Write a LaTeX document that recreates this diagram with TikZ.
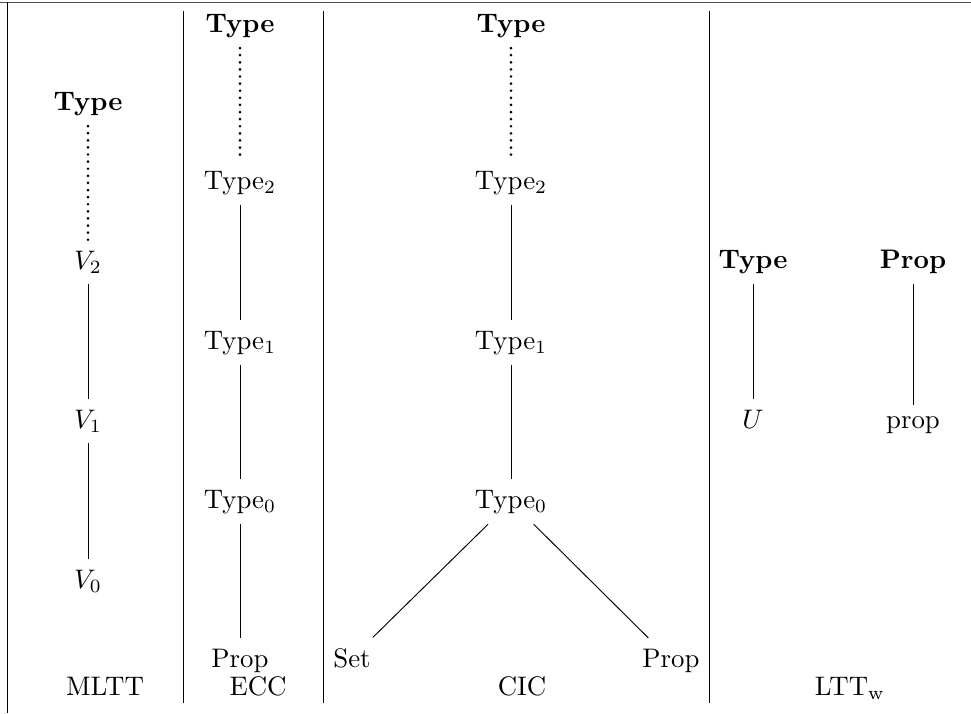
\documentclass[tikz,border=0pt]{standalone}
\begin{document}
\begin{tikzpicture}[x=0.373pt,y=-0.373pt,
  lbl/.style={anchor=base,inner sep=4pt,outer sep=0pt},
  edge/.style={line width=0.35pt},
  dots/.style={line width=1.1pt,line cap=round,dash pattern=on 0pt off 2.65pt},
  rule/.style={line width=0.35pt}]
\useasboundingbox (0,0) rectangle (971,713);
% frame and column rules
\draw[rule,black!70] (0,2) -- (971,2);
\draw[rule] (7,2) -- (7,713);
\draw[rule] (183,11) -- (183,703);
\draw[rule] (323,11) -- (323,703);
\draw[rule] (709,11) -- (709,703);
% MLTT
\node[lbl] (mT) at (88,110) {\textbf{Type}};
\node[lbl] (mV2) at (88,269) {$V_2$};
\node[lbl] (mV1) at (88,428) {$V_1$};
\node[lbl] (mV0) at (88,588) {$V_0$};
\node[lbl] (mL) at (105,695) {MLTT};
\draw[dots] (mT) -- (mV2);
\draw[edge] (mV2) -- (mV1);
\draw[edge] (mV1) -- (mV0);
% ECC
\node[lbl] (eT) at (240,32) {\textbf{Type}};
\node[lbl] (e2) at (240,189) {Type$_2$};
\node[lbl] (e1) at (240,349) {Type$_1$};
\node[lbl] (e0) at (240,508) {Type$_0$};
\node[lbl] (eP) at (240,667) {Prop};
\node[lbl] (eL) at (258,695) {ECC};
\draw[dots] (eT) -- (e2);
\draw[edge] (e2) -- (e1);
\draw[edge] (e1) -- (e0);
\draw[edge] (e0) -- (eP);
% CIC
\node[lbl] (cT) at (511,32) {\textbf{Type}};
\node[lbl] (c2) at (511,189) {Type$_2$};
\node[lbl] (c1) at (511,349) {Type$_1$};
\node[lbl] (c0) at (511,508) {Type$_0$};
\node[lbl] (cS) at (352,667) {Set};
\node[lbl] (cP) at (671,667) {Prop};
\node[lbl] (cL) at (522,695) {CIC};
\draw[dots] (cT) -- (c2);
\draw[edge] (c2) -- (c1);
\draw[edge] (c1) -- (c0);
\draw[edge] (c0) -- (cS);
\draw[edge] (c0) -- (cP);
% LTT_w
\node[lbl] (lT) at (753,268) {\textbf{Type}};
\node[lbl] (lP) at (913,268) {\textbf{Prop}};
\node[lbl] (lU) at (753,428) {$U$};
\node[lbl] (lp) at (913,428) {prop};
\node[lbl] (lL) at (850,695) {LTT$_{\mathrm{w}}$};
\draw[edge] (lT) -- (lU);
\draw[edge] (lP) -- (lp);
\end{tikzpicture}
\end{document}
